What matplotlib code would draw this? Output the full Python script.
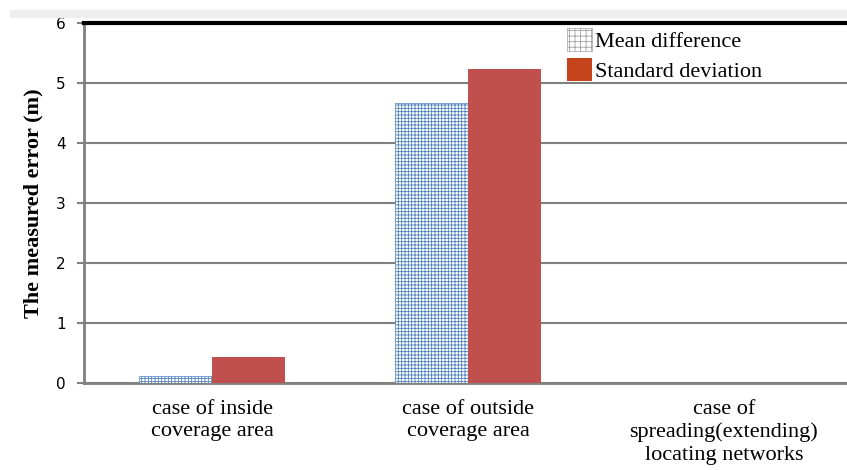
import matplotlib.pyplot as plt
import matplotlib.patches as mpatches
import numpy as np

# data
categories = ['case of inside\ncoverage area',
              'case of outside\ncoverage area',
              'case of\nspreading(extending)\nlocating networks']
mean_diff = [0.12, 4.67, 0.0]
std_dev = [0.43, 5.23, 0.0]
series_names = ['Mean difference', 'Standard deviation']
yticks = [0, 1, 2, 3, 4, 5, 6]

plt.rcParams['hatch.linewidth'] = 0.6

fig = plt.figure(figsize=(8.47, 4.70), dpi=100)
fig.patches.append(mpatches.Rectangle((10 / 847, 1 - 17 / 470), 1, 7 / 470,
                                      transform=fig.transFigure, color='#eeeeee', zorder=0))
ax = fig.add_axes([84 / 847, 87 / 470, 768 / 847, 360 / 470])

x = np.arange(len(categories))
w = 0.285
ax.bar(x - w / 2, mean_diff, w, color='white', edgecolor='#4F81BD',
       hatch='+' * 5, linewidth=0.5, zorder=3)
ax.bar(x + w / 2, std_dev, w, color='#C0504D', zorder=3)

ax.set_xlim(-0.5, 2.5)
ax.set_ylim(0, 6)
ax.set_yticks(yticks)
ax.set_yticklabels([str(t) for t in yticks], fontsize=11, family='DejaVu Sans')
ax.set_xticks(x)
ax.set_xticklabels(categories, fontsize=16, family='Liberation Serif', linespacing=1.25)
ax.tick_params(axis='x', length=0, pad=12)
ax.tick_params(axis='y', length=5, width=1.5, color='#808080', pad=8)

ax.grid(axis='y', color='#808080', linewidth=1.5, zorder=0)
for s in ['left', 'bottom']:
    ax.spines[s].set_color('#808080')
    ax.spines[s].set_linewidth(2)
ax.spines['right'].set_visible(False)
ax.spines['top'].set_color('black')
ax.spines['top'].set_linewidth(3)

ax.set_ylabel('The measured error (m)', fontsize=16, fontweight='bold',
              family='Liberation Serif', labelpad=9)

h1 = mpatches.Patch(facecolor='white', edgecolor='#A0A0A0', hatch='+++', linewidth=0.5)
h2 = mpatches.Patch(facecolor='#C5441B')
leg = ax.legend([h1, h2], series_names, loc='upper left', bbox_to_anchor=(0.61, 1.025),
                frameon=False,
                prop={'family': 'Liberation Serif', 'size': 16},
                handlelength=1.15, handleheight=1.2, handletextpad=0.1,
                labelspacing=0.25, borderpad=0.15)

fig.savefig('out.png', dpi=100)
